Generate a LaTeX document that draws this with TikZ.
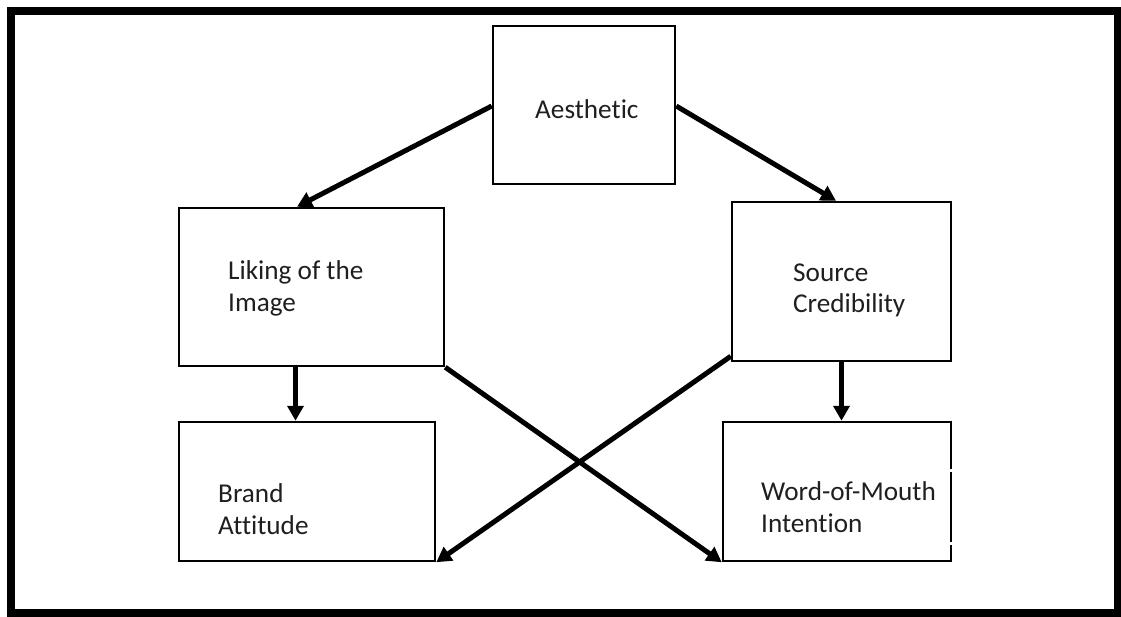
\documentclass[tikz,border=0pt]{standalone}
\usepackage{fontspec}
\setmainfont[Ligatures={NoCommon}]{Carlito}
\usetikzlibrary{arrows.meta,calc}
\begin{document}
\begin{tikzpicture}[x=1pt,y=-1pt,
  box/.style={draw=black,line width=2.5pt,inner sep=0pt,fill=white},
  lbl/.style={anchor=base west,inner sep=0pt,align=left,text=black!88,font=\fontsize{27.2}{32}\selectfont},
  link/.style={line width=5pt,-{Triangle[length=15pt,width=16pt]}}]
\useasboundingbox (0,0) rectangle (1121,617);
\draw[line width=8pt] (11,11) rectangle (1118,613);
% boxes
\node[box,minimum width=182pt,minimum height=158pt] (aes) at (584,105) {};
\node[box,minimum width=265pt,minimum height=158pt] (lik) at (311.5,287) {};
\node[box,minimum width=219pt,minimum height=159pt] (src) at (841.5,281.5) {};
\node[box,minimum width=256pt,minimum height=139pt] (bra) at (307,491.5) {};
\node[box,minimum width=228pt,minimum height=139pt] (wom) at (837,491.5) {};
% gaps on right edge of the word-of-mouth box
\fill[white] (949,469) rectangle (953,471.5);
\fill[white] (949,542) rectangle (953,544.5);
% labels (anchored at the baseline of the last line)
\node[lbl] (taes) at (535,119) {Aesthetic};
\node[lbl] (tlik) at (228,312) {Liking of the\\Image};
\node[lbl] (tsrc) at (793,313) {Source\\Credibility};
\node[lbl] (tbra) at (218,534) {Brand\\Attitude};
\node[lbl] (twom) at (761,532) {Word-of-Mouth\\Intention};
% connectors
\draw[link] ([yshift=-1pt]aes.west) -- ([xshift=-14.5pt]lik.north);
\draw[link] ([yshift=-1pt]aes.east) -- ([xshift=-5.5pt]src.north);
\draw[link] ([xshift=-16pt]lik.south) -- ([xshift=-16pt]lik.south |- bra.north);
\draw[link] ([yshift=2pt]src.south) -- (src.south |- wom.north);
\draw[link] (lik.south east) -- (wom.south west);
\draw[link] ([yshift=6pt]src.south west) -- (bra.south east);
\end{tikzpicture}
\end{document}
